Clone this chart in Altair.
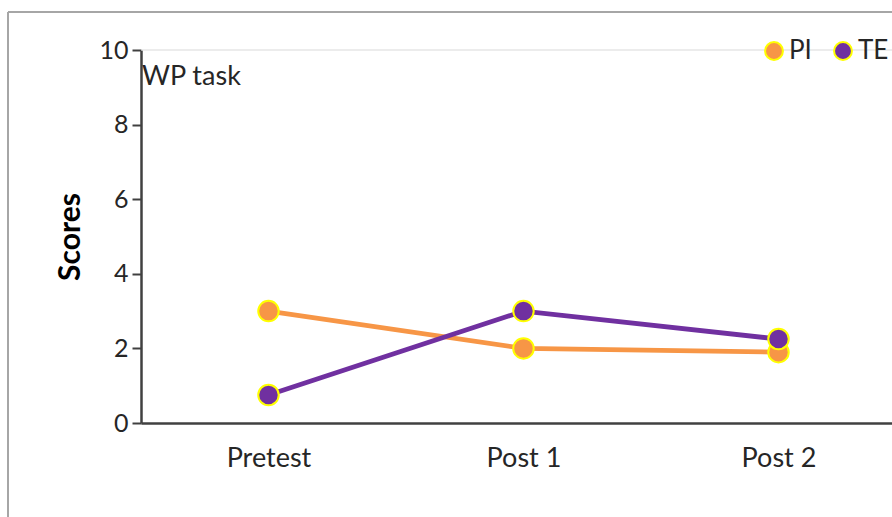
import altair as alt
import pandas as pd

tests = ["Pretest", "Post 1", "Post 2"]
groups = ["PI", "TE"]
pi_scores = [3.0, 2.0, 1.9]
te_scores = [0.75, 3.0, 2.25]
colors = ["#F79646", "#7030A0"]
y_ticks = [0, 2, 4, 6, 8, 10]
panel_label = ["WP task"]

rows = []
for g, vals in zip(groups, [pi_scores, te_scores]):
    for t, v in zip(tests, vals):
        rows.append({"Test": t, "Score": v, "Group": g})
df = pd.DataFrame(rows)

FONT = "Lato"
FS = 27
W, H = 751, 373

x = alt.X(
    "Test:N",
    sort=tests,
    scale=alt.Scale(type="point", padding=0.4725, align=0.529),
    axis=alt.Axis(
        title=None, ticks=False, labelAngle=0, labelFontSize=FS,
        labelPadding=35, labelBaseline="middle", domainColor="#404040", domainWidth=2.5,
        labelColor="#262626", labelFont=FONT,
    ),
)
y = alt.Y(
    "Score:Q",
    scale=alt.Scale(domain=[0, 10], nice=False),
    axis=alt.Axis(
        values=y_ticks, title="Scores", titleFontSize=30, titleFontWeight="bold",
        titleFont=FONT, titleColor="#000000", titlePadding=13, grid=False,
        tickSize=9, tickColor="#404040", tickWidth=2, domainColor="#404040",
        domainWidth=2.5, labelFontSize=25, labelFont=FONT, labelColor="#262626",
        labelPadding=4,
    ),
)
color_pts = alt.Color(
    "Group:N",
    scale=alt.Scale(domain=groups, range=colors),
    legend=alt.Legend(
        orient="none", legendX=620, legendY=-12, direction="horizontal",
        title=None, labelFontSize=26, labelFont=FONT, labelColor="#262626",
        symbolSize=320, symbolType="circle", symbolStrokeColor="#FFFF00",
        symbolStrokeWidth=2, columnPadding=18, labelOffset=2,
    ),
)
color_lines = alt.Color("Group:N", scale=alt.Scale(domain=groups, range=colors), legend=None)

base = alt.Chart(df)
lines = base.mark_line(strokeWidth=4.8).encode(x=x, y=y, color=color_lines)
points = base.mark_circle(size=420, stroke="#FFFF00", strokeWidth=2, opacity=1).encode(
    x=x, y=y, color=color_pts
)

one = pd.DataFrame({"label": panel_label})
label = alt.Chart(one).mark_text(
    align="left", baseline="middle", fontSize=FS, font=FONT, color="#262626"
).encode(text="label:N", x=alt.value(1), y=alt.value(27))

top_border = alt.Chart(one).mark_rule(color="#d9d9d9", strokeWidth=1.2).encode(
    x=alt.value(0), x2=alt.value(W), y=alt.value(0)
)
frame_left = alt.Chart(one).mark_rule(color="#a6a6a6", strokeWidth=2).encode(
    x=alt.value(-133), y=alt.value(-38), y2=alt.value(480)
)
frame_top = alt.Chart(one).mark_rule(color="#a6a6a6", strokeWidth=2).encode(
    x=alt.value(-133), x2=alt.value(W + 10), y=alt.value(-38)
)

chart = alt.layer(frame_left, frame_top, top_border, lines, points, label).resolve_legend(
    color="independent"
).properties(
    width=W, height=H,
    autosize=alt.AutoSizeParams(type="none"),
    padding={"left": 141, "top": 50, "right": 0, "bottom": 94},
).configure_view(stroke=None)

chart.save("out.html", embed_options={"renderer": "svg", "actions": False})
